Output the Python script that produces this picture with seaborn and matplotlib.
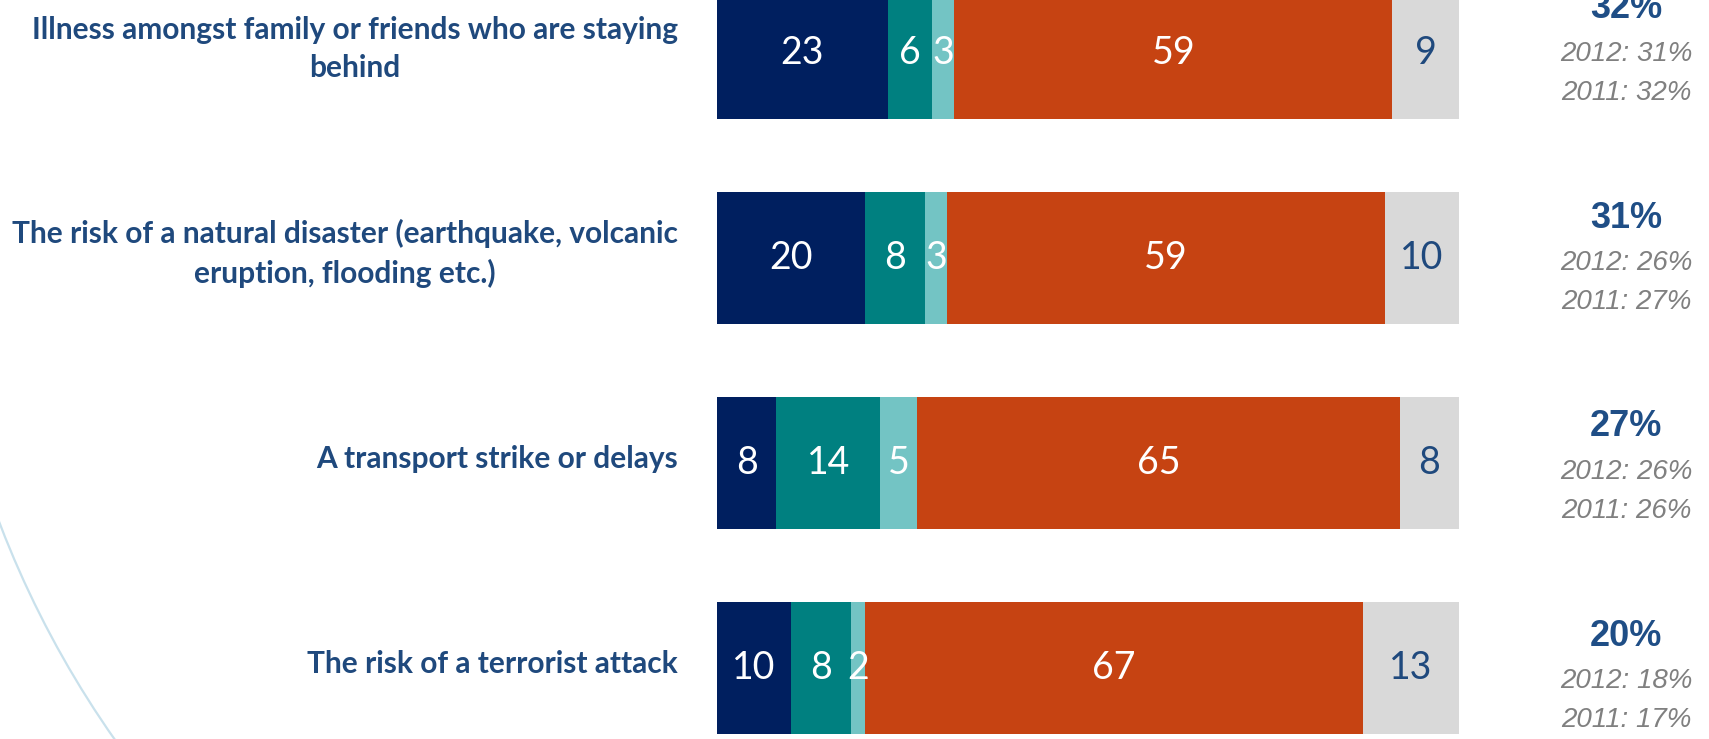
import numpy as np
import pandas as pd
import matplotlib
matplotlib.use("Agg")
import matplotlib.pyplot as plt
from matplotlib.patches import Circle
import seaborn as sns

# data
labels = [
    "Illness amongst family or friends who are staying\nbehind",
    "The risk of a natural disaster (earthquake, volcanic\neruption, flooding etc.)",
    "A transport strike or delays",
    "The risk of a terrorist attack",
]
segments = ["Main worry", "Second worry", "Third worry", "Not a worry", "Don't know"]
main_worry = [23, 20, 8, 10]
second_worry = [6, 8, 14, 8]
third_worry = [3, 3, 5, 2]
not_worry = [59, 59, 65, 67]
dont_know = [9, 10, 8, 13]
total_2013 = ["32%", "31%", "27%", "20%"]
total_2012 = ["31%", "26%", "26%", "18%"]
total_2011 = ["32%", "27%", "26%", "17%"]

colors = ["#001F5F", "#008080", "#73C4C4", "#C64312", "#D9D9D9"]
text_colors = ["white", "white", "white", "white", "#1F497D"]

sns.set_style("white")
plt.rcParams["font.family"] = ["Lato", "DejaVu Sans"]

df = pd.DataFrame({"label": labels})
vals = [main_worry, second_worry, third_worry, not_worry, dont_know]
for name, v in zip(segments, vals):
    df[name] = v
cum = df[segments].cumsum(axis=1)

W, H = 1709, 739
fig = plt.figure(figsize=(W / 100, H / 100), dpi=100)

# faint decorative arc in the background
bg = fig.add_axes([0, 0, 1, 1], zorder=0)
bg.set_xlim(0, W)
bg.set_ylim(H, 0)
bg.axis("off")
bg.add_patch(Circle((928, 168), 994, fill=False, ec="#C9E1EC", lw=1.6))

ax = fig.add_axes([717 / W, 0, 742 / W, 1], zorder=1)
ax.patch.set_alpha(0)

# stacked bars: draw cumulative totals from the right-most segment down
for name, c in reversed(list(zip(segments, colors))):
    sns.barplot(x=cum[name], y=df["label"], orient="h", color=c,
                width=0.64, saturation=1, ax=ax, edgecolor="none")

ax.set_xlim(0, 100)
ax.set_ylim(3.346, -0.2585)
ax.axis("off")

# segment values and category labels
for i in range(len(labels)):
    left = 0
    for name, tc in zip(segments, text_colors):
        v = df.loc[i, name]
        ax.text(left + v / 2, i, str(v), ha="center", va="center",
                color=tc, fontsize=27)
        left += v
    ax.text(-5.3, i - 0.02, labels[i], ha="right", va="center", ma="center",
            color="#1F497D", fontsize=21.5, fontweight="bold", linespacing=1.45)

# totals at the right
for i in range(len(labels)):
    y0 = 9 + 209 * i
    fig.text(1626 / W, 1 - y0 / H, total_2013[i], ha="center", va="center",
             color="#1F4E86", fontsize=26, fontweight="bold",
             family="Liberation Sans")
    fig.text(1626 / W, 1 - (y0 + 45) / H, "2012: " + total_2012[i],
             ha="center", va="center", color="#808080", fontsize=20,
             style="italic", family="Liberation Sans")
    fig.text(1626 / W, 1 - (y0 + 84) / H, "2011: " + total_2011[i],
             ha="center", va="center", color="#808080", fontsize=20,
             style="italic", family="Liberation Sans")

fig.savefig("out.png", dpi=100)
